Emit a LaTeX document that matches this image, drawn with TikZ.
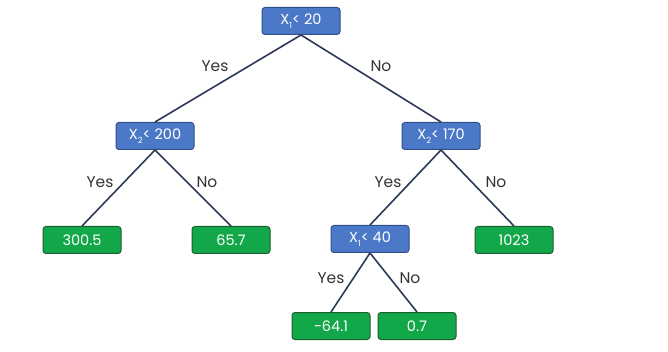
\documentclass[tikz,border=0pt]{standalone}
\usepackage{fontspec}
\setmainfont{Poppins}
\definecolor{bfill}{HTML}{4C78C8}
\definecolor{bdraw}{HTML}{2F4F8A}
\definecolor{gfill}{HTML}{12A84A}
\definecolor{gdraw}{HTML}{1C5E2C}
\definecolor{edge}{HTML}{2C3A58}
\definecolor{lab}{HTML}{333333}
\newcommand{\sbs}[1]{\raisebox{-0.45ex}{\fontsize{8.5}{8.5}\selectfont #1}}
\begin{document}
\begin{tikzpicture}[x=1pt,y=-1pt,
  box/.style={rounded corners=3pt, line width=1pt, minimum width=78pt, minimum height=27pt, inner sep=0pt, text=white, font=\fontsize{14.5}{14.5}\selectfont},
  cond/.style={box, draw=bdraw, fill=bfill},
  leaf/.style={box, draw=gdraw, fill=gfill},
  conn/.style={draw=edge, line width=1.6pt},
  lbl/.style={text=lab, font=\fontsize{15.5}{15.5}\selectfont, inner sep=0pt}]
\useasboundingbox (0,0) rectangle (668,352);
\node[cond] (r) at (301,21) {X\sbs{1}< 20};
\node[cond] (a) at (155,136) {X\sbs{2}< 200};
\node[cond] (b) at (441,136) {X\sbs{2}< 170};
\node[leaf] (l1) at (82,240) {300.5};
\node[leaf] (l2) at (231,240) {65.7};
\node[cond] (c) at (370,239) {X\sbs{1}< 40};
\node[leaf] (l3) at (514,240) {1023};
\node[leaf] (l4) at (331,326) {-64.1};
\node[leaf] (l5) at (417,326) {0.7};
\draw[conn] (r.south) -- (a.north);
\draw[conn] (r.south) -- (b.north);
\draw[conn] (a.south) -- (l1.north);
\draw[conn] (a.south) -- (l2.north);
\draw[conn] (b.south) -- (c.north);
\draw[conn] (b.south) -- (l3.north);
\draw[conn] (c.south) -- (l4.north);
\draw[conn] (c.south) -- (l5.north);
\node[lbl] (t1) at (215,66) {Yes};
\node[lbl] (t2) at (381,66) {No};
\node[lbl] (t3) at (100,182) {Yes};
\node[lbl] (t4) at (207,182) {No};
\node[lbl] (t5) at (388,182) {Yes};
\node[lbl] (t6) at (496,182) {No};
\node[lbl] (t7) at (331,278) {Yes};
\node[lbl] (t8) at (410,278) {No};
\end{tikzpicture}
\end{document}
